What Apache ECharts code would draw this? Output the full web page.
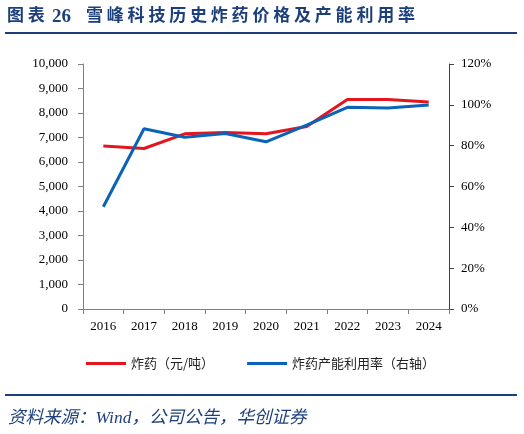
<!DOCTYPE html>
<html>
<head>
<meta charset="utf-8">
<script src="https://cdn.jsdelivr.net/npm/echarts@6/dist/echarts.min.js"></script>
<style>
html,body{margin:0;padding:0;background:#fff;}
#c{width:524px;height:434px;}
</style>
</head>
<body>
<div id="c"></div>
<script>
var years = ['2016','2017','2018','2019','2020','2021','2022','2023','2024'];
var price = [6650, 6550, 7150, 7200, 7150, 7450, 8550, 8550, 8450];
var utilization = [50.1, 88.3, 84.1, 86.0, 81.9, 90.1, 98.8, 98.4, 99.9];
var leftTicks = {min: 0, max: 10000, interval: 1000};
var rightTicks = {min: 0, max: 120, interval: 20};
var titleLabel = '图表';
var titleNumber = '26';
var titleText = '雪峰科技历史炸药价格及产能利用率';
var sourceText = '资料来源：Wind，公司公告，华创证券';
var seriesNames = ['炸药（元/吨）', '炸药产能利用率（右轴）'];

var navy = '#1c3f7c';
var serif = '"Liberation Serif", "Noto Sans CJK SC", serif';
var titleFont = 'bold 17px "Liberation Serif", "Noto Sans CJK SC", serif';

function spacedChars(str, x0, advance, y) {
  var out = [];
  for (var i = 0; i < str.length; i++) {
    out.push({type: 'text', x: x0 + i * advance, y: y,
      style: {text: str[i], font: titleFont, fill: navy, textVerticalAlign: 'middle'}});
  }
  return out;
}

var graphics = []
  .concat(spacedChars(titleLabel, 7, 20.8, 17))
  .concat([{type: 'text', x: 52, y: 17, style: {text: titleNumber, font: 'bold 19px "Liberation Serif", serif', fill: navy, textVerticalAlign: 'middle'}}])
  .concat(spacedChars(titleText, 86, 20.8, 17))
  .concat([
    {type: 'rect', shape: {x: 5, y: 32, width: 512, height: 2}, style: {fill: navy}},
    {type: 'rect', shape: {x: 5, y: 394, width: 512, height: 2}, style: {fill: navy}},
    {type: 'text', x: 8, y: 418, style: {text: sourceText, font: 'italic 17.5px "Liberation Serif", "Noto Sans CJK SC", serif', fill: navy, textVerticalAlign: 'middle'}}
  ]);

var chart = echarts.init(document.getElementById('c'));
chart.setOption({
  animation: false,
  grid: {left: 83, right: 75, top: 64, bottom: 125, containLabel: false},
  graphic: graphics,
  legend: {
    top: 352, left: 81,
    itemWidth: 40, itemHeight: 3, itemGap: 33,
    icon: 'rect',
    textStyle: {fontSize: 13, color: '#222', fontFamily: '"Noto Sans CJK SC", sans-serif'},
    data: seriesNames
  },
  xAxis: {
    type: 'category', data: years, boundaryGap: true,
    axisLine: {lineStyle: {color: '#808080', width: 1}},
    axisTick: {show: true, length: 5, lineStyle: {color: '#808080'}},
    axisLabel: {margin: 11, fontSize: 13, color: '#000', fontFamily: serif}
  },
  yAxis: [
    {
      type: 'value', min: leftTicks.min, max: leftTicks.max, interval: leftTicks.interval,
      splitLine: {show: false},
      axisLine: {show: true, lineStyle: {color: '#808080'}},
      axisTick: {show: true, length: 5, lineStyle: {color: '#808080'}},
      axisLabel: {margin: 15, fontSize: 13, color: '#000', fontFamily: serif,
        formatter: function (v) { return String(v).replace(/\B(?=(\d{3})+(?!\d))/g, ','); }}
    },
    {
      type: 'value', position: 'right', min: rightTicks.min, max: rightTicks.max, interval: rightTicks.interval,
      splitLine: {show: false},
      axisLine: {show: true, lineStyle: {color: '#404040'}},
      axisTick: {show: true, length: 5, lineStyle: {color: '#404040'}},
      axisLabel: {margin: 12, fontSize: 13, color: '#000', fontFamily: serif, formatter: '{value}%'}
    }
  ],
  series: [
    {name: seriesNames[0], type: 'line', yAxisIndex: 0, data: price, symbol: 'none',
      lineStyle: {color: '#e3151f', width: 3}, itemStyle: {color: '#e3151f'}},
    {name: seriesNames[1], type: 'line', yAxisIndex: 1, data: utilization, symbol: 'none',
      lineStyle: {color: '#0a63b8', width: 3}, itemStyle: {color: '#0a63b8'}}
  ]
});
</script>
</body>
</html>
